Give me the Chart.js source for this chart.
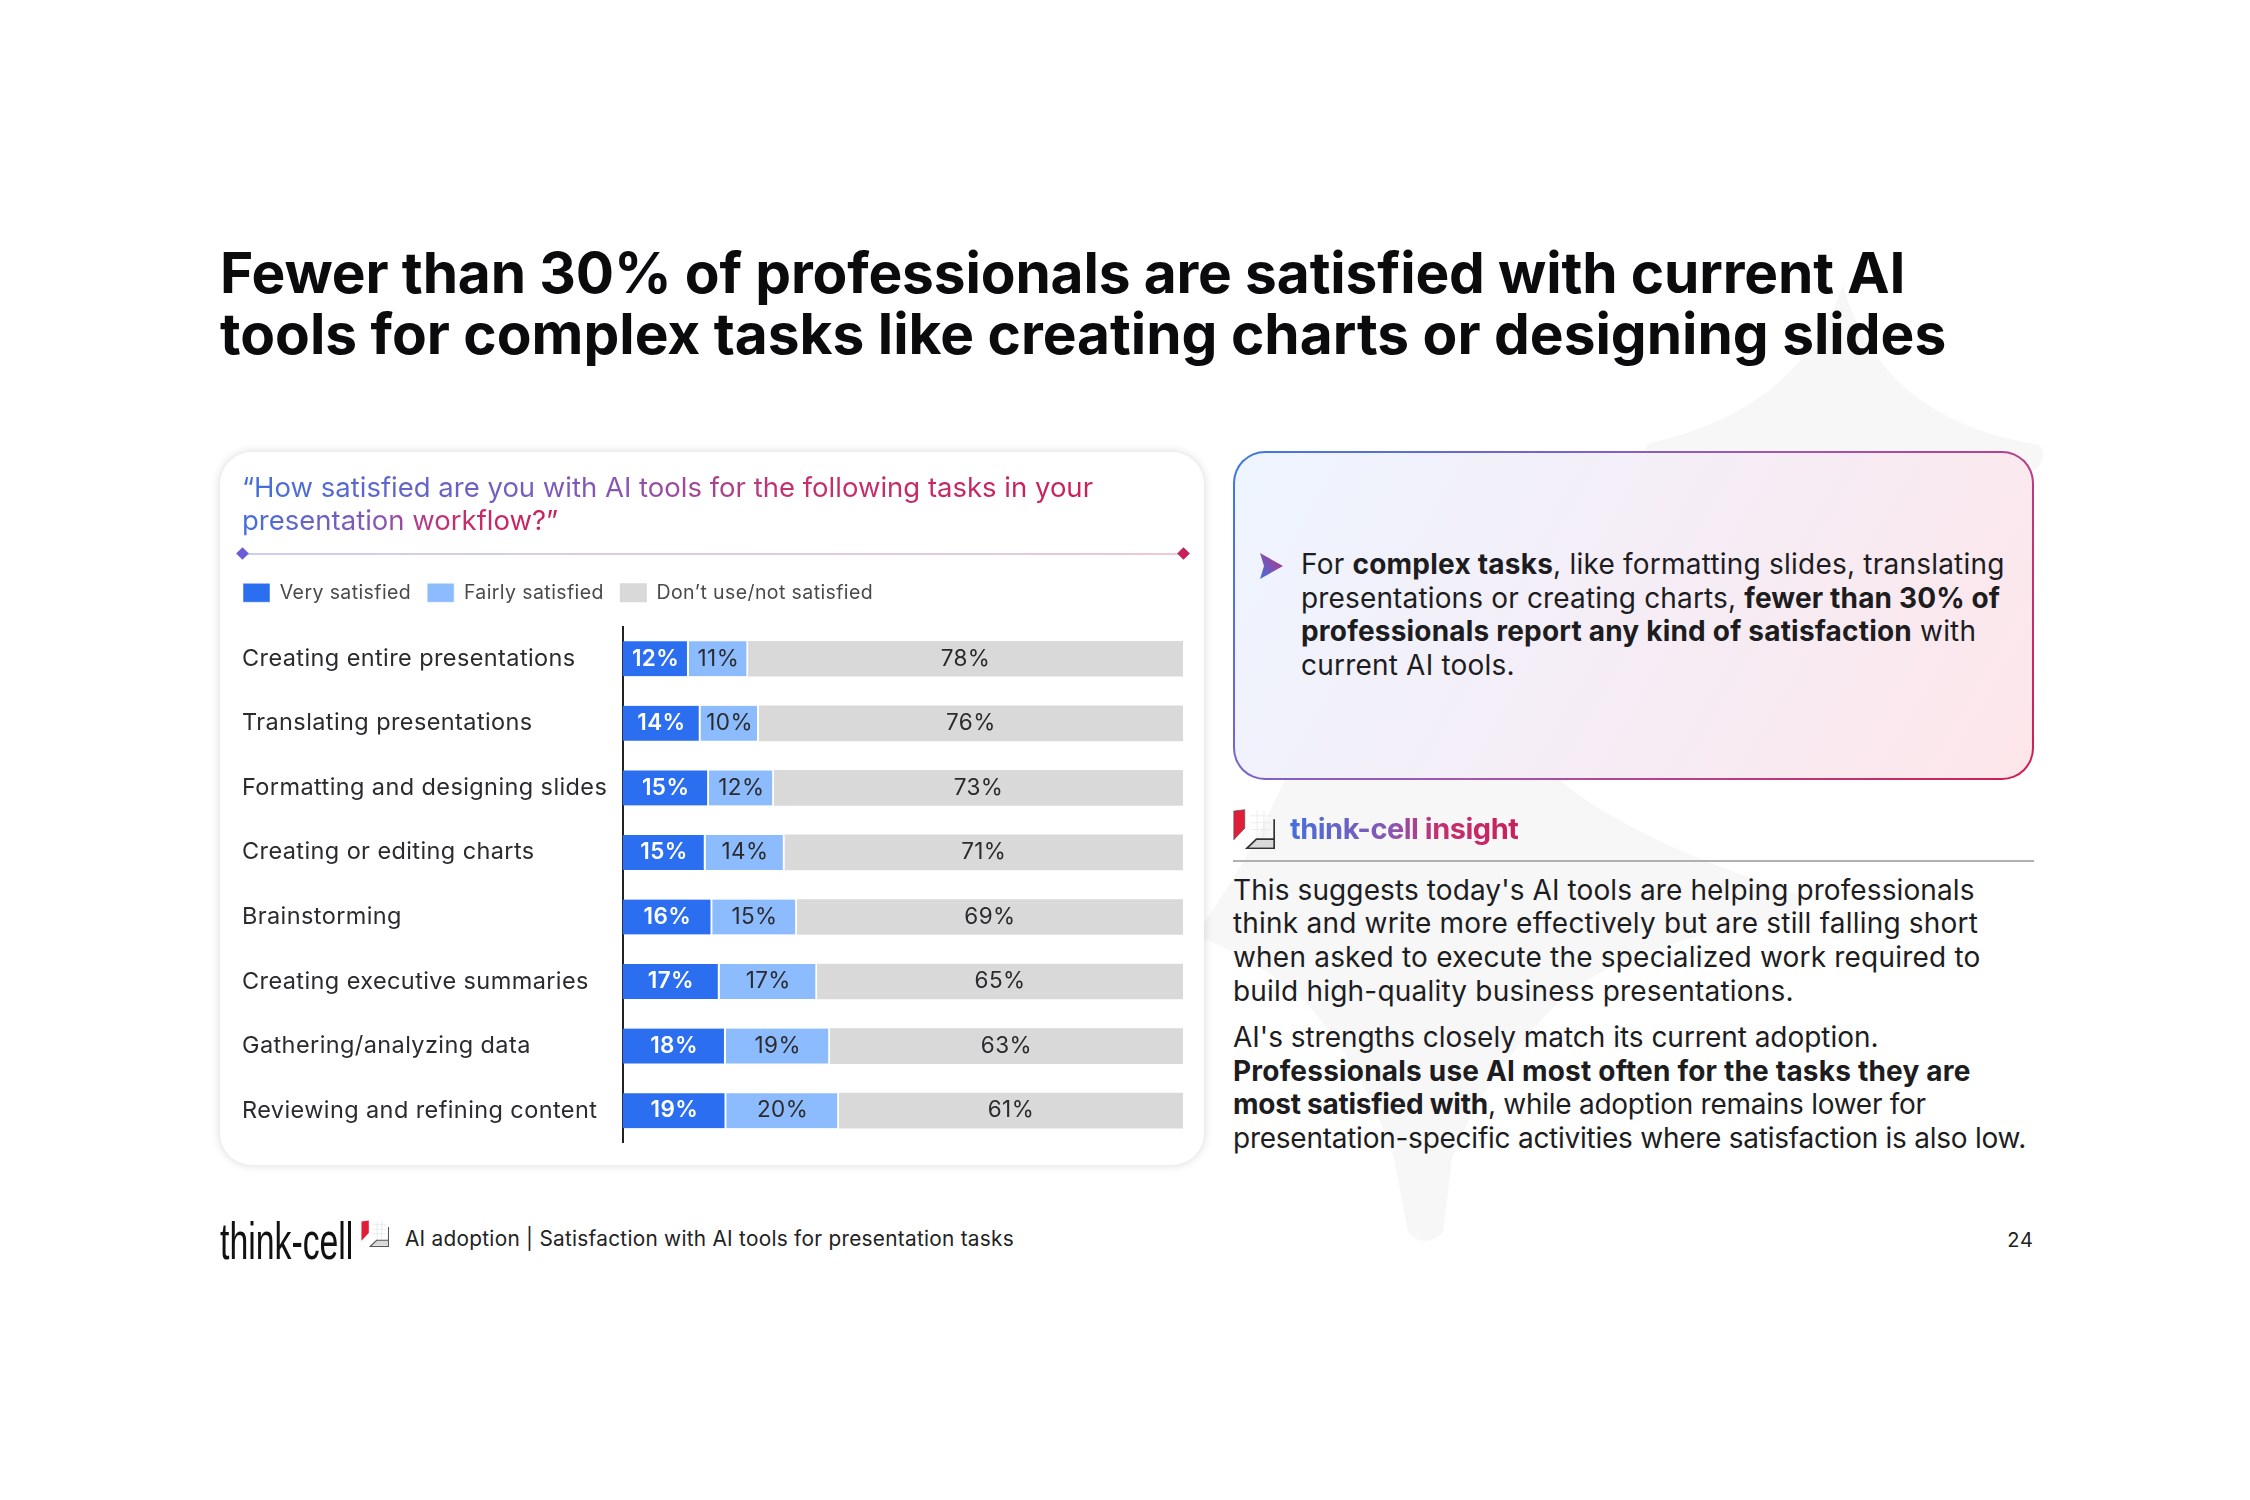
<!DOCTYPE html>
<html>
<head>
<meta charset="utf-8">
<title>Satisfaction with AI tools</title>
<script src="https://cdn.jsdelivr.net/npm/chart.js@4"></script>
<style>
  html, body { margin: 0; padding: 0; background: #fff; }
  body { width: 2250px; height: 1500px; position: relative; overflow: hidden; font-family: Inter, sans-serif; color: #1d1d1f; }
  .abs { position: absolute; white-space: nowrap; }
  b { font-weight: 700; }
  #title { left: 220px; top: 243px; font-size: 56.8px; line-height: 60.5px; font-weight: 700; color: #0b0b0d; }
  #title div { height: 60.5px; }
  #card { left: 220px; top: 452px; width: 984px; height: 713px; background: #fff; border-radius: 32px; box-shadow: 0 0 10px rgba(0,0,0,.16); }
  .grad { -webkit-background-clip: text; background-clip: text; color: transparent; background-image: linear-gradient(90deg, #4470dc, #8a55b0 45%, #c4306f 65%, #c8205c); display: inline-block; }
  #question { left: 242px; top: 471px; font-size: 27.5px; line-height: 33px; }
  #rule { left: 243px; top: 553px; width: 941px; height: 2px; background: linear-gradient(90deg, #cfcdee, #ecc9d6); }
  .diamond { width: 9px; height: 9px; transform: rotate(45deg); top: 549px; }
  #box { left: 1233px; top: 451px; width: 797px; height: 325px; border: 2.5px solid transparent; border-radius: 32px;
    background: linear-gradient(120deg, #eef5ff, #f5edf6 50%, #fde6ea) padding-box, linear-gradient(135deg, #3f78e0, #a455b0 50%, #cf1f50) border-box; }
  .body { font-size: 28px; line-height: 33.7px; letter-spacing: 0.2px; color: #1d1d1f; }
  .body span { display: inline-block; }
  #canvasWrap { position: absolute; left: 242px; top: 567px; }
  canvas { display: block; }
</style>
</head>
<body>

<!-- faint sparkle watermark behind the slide -->
<svg class="abs" style="left:0;top:0" width="2250" height="1500">
  <path fill="#f7f7f8" d="M1843 285 Q1880 420 2040 445 Q2048 460 2035 470 L1645 470 Q1640 450 1650 443 Q1800 410 1843 285 Z"/>
  <path fill="#f7f7f8" d="M1426 620 L1560 780 Q1630 840 1800 895 Q1800 910 1790 915 Q1610 950 1559 1002 Q1480 1080 1452 1158 L1443 1232 Q1425 1250 1408 1232 L1394 1158 Q1360 1060 1305 1002 Q1260 960 1195 935 Q1250 860 1283 783 Z"/>
</svg>

<div class="abs" id="title"><div style="letter-spacing:-.14px">Fewer than 30% of professionals are satisfied with current AI</div><div>tools for complex tasks like creating charts or designing slides</div></div>

<div class="abs" id="card"></div>
<div class="abs" id="question"><span class="grad">“How satisfied are you with AI tools for the following tasks in your</span><br><span class="grad">presentation workflow?”</span></div>
<div class="abs" id="rule"></div>
<div class="abs diamond" style="left:238px;background:#6a5cd8"></div>
<div class="abs diamond" style="left:1179px;background:#c8205c"></div>

<div id="canvasWrap"><canvas id="chart" width="941" height="593" style="width:941px;height:593px"></canvas></div>

<div class="abs" id="box"></div>
<svg class="abs" style="left:1259px;top:553px" width="24" height="26">
  <defs><linearGradient id="arrowGrad" x1="0" y1="1" x2="1" y2="0"><stop offset="0" stop-color="#3f72e0"/><stop offset="1" stop-color="#c0307f"/></linearGradient></defs>
  <path fill="url(#arrowGrad)" d="M1 0 L24 13 L1 26 L5 13 Z"/>
</svg>
<div class="abs body" style="left:1301px;top:548px"><span style="letter-spacing:.22px">For <b>complex tasks</b>, like formatting slides, translating</span><br><span style="letter-spacing:.15px">presentations or creating charts, <b>fewer than 30% of</b></span><br><span><b>professionals report any kind of satisfaction</b> with</span><br>current AI tools.</div>

<svg class="abs" style="left:1233px;top:809px" width="42" height="40" viewBox="0 0 122 117">
  <path fill="none" stroke="#e4e4e4" stroke-width="2" d="M50 20H110M50 40H110M50 60H110M70 5V85M90 5V85"/>
  <path fill="#d9d9d9" d="M42 112 L68 88 H118 V112 Z"/>
  <path fill="none" stroke="#333" stroke-width="5" d="M120 30 V115 H40 L68 88 H120"/>
  <path fill="#e01e37" stroke="#555" stroke-width="2" d="M2 6 L34 2 V56 L2 90 Z"/>
</svg>
<div class="abs" style="left:1290px;top:809px;font-size:29px;line-height:40px;font-weight:700;letter-spacing:-0.5px"><span class="grad">think-cell insight</span></div>
<div class="abs" style="left:1233px;top:860px;width:801px;height:2px;background:#b0b0b0"></div>

<div class="abs body" style="left:1233px;top:873.5px"><span style="letter-spacing:.1px">This suggests today's AI tools are helping professionals</span><br>think and write more effectively but are still falling short<br>when asked to execute the specialized work required to<br>build high-quality business presentations.</div>
<div class="abs body" style="left:1233px;top:1021px"><span style="letter-spacing:-.03px">AI's strengths closely match its current adoption.</span><br><span><b>Professionals use AI most often for the tasks they are</b></span><br><span style="letter-spacing:-.26px"><b>most satisfied with</b>, while adoption remains lower for</span><br><span style="letter-spacing:-.25px">presentation-specific activities where satisfaction is also low.</span></div>

<div class="abs" style="left:220px;top:1216px;font-family:'Liberation Sans Narrow','Liberation Sans',sans-serif;font-size:52px;line-height:50px;color:#111;transform-origin:left center;transform:scaleX(.65)">think-cell</div>
<svg class="abs" style="left:361px;top:1220px" width="28" height="27" viewBox="0 0 122 117">
  <path fill="none" stroke="#e4e4e4" stroke-width="3" d="M50 20H110M50 40H110M50 60H110M70 5V85M90 5V85"/>
  <path fill="#d9d9d9" d="M42 112 L68 88 H118 V112 Z"/>
  <path fill="none" stroke="#555" stroke-width="5" d="M120 30 V115 H40 L68 88 H120"/>
  <path fill="#e01e37" d="M2 6 L34 2 V56 L2 90 Z"/>
</svg>
<div class="abs" style="left:405px;top:1224px;font-size:20.8px;line-height:30px;letter-spacing:0.27px;color:#222">AI adoption | Satisfaction with AI tools for presentation tasks</div>
<div class="abs" style="right:216px;top:1225px;font-size:20px;line-height:30px;letter-spacing:1px;color:#222">24</div>

<script>
const categories = [
  "Creating entire presentations",
  "Translating presentations",
  "Formatting and designing slides",
  "Creating or editing charts",
  "Brainstorming",
  "Creating executive summaries",
  "Gathering/analyzing data",
  "Reviewing and refining content"
];
const verySatisfied = [11.8, 13.9, 15.4, 14.8, 16.0, 17.3, 18.4, 18.5];
const fairlySatisfied = [10.6, 10.4, 11.6, 14.1, 15.1, 17.4, 18.6, 20.1];
const notSatisfied = [77.6, 75.7, 73.0, 71.1, 68.9, 65.3, 63.0, 61.4];
const seriesNames = ["Very satisfied", "Fairly satisfied", "Don’t use/not satisfied"];

const FONT = "Inter";
const TEXT_COLOR = "#2b2b2e";

// prints the rounded share in the middle of each segment
const barLabels = {
  id: "barLabels",
  afterDatasetsDraw(chart) {
    const ctx = chart.ctx;
    ctx.save();
    ctx.textAlign = "center";
    ctx.textBaseline = "middle";
    chart.data.datasets.forEach((ds, i) => {
      ctx.font = (i === 0 ? "600" : "400") + " 22.5px " + FONT;
      ctx.fillStyle = i === 0 ? "#fff" : TEXT_COLOR;
      chart.getDatasetMeta(i).data.forEach((bar, j) => {
        const c = bar.getCenterPoint();
        ctx.fillText(Math.round(ds.data[j]) + "%", c.x, c.y);
      });
    });
    ctx.restore();
  }
};

// legend sits flush with the labels although its padding also spaces the items
const legendShift = {
  id: "legendShift",
  afterLayout(chart) {
    chart.legend.left = 1 - chart.options.plugins.legend.labels.padding;
  },
  beforeDraw(chart) {
    chart.ctx.letterSpacing = "0.4px";
  }
};

new Chart(document.getElementById("chart"), {
  type: "bar",
  data: {
    labels: categories,
    datasets: [
      { label: seriesNames[0], data: verySatisfied, backgroundColor: "#2b6ff0", borderColor: "#fff", borderWidth: { right: 2 }, borderSkipped: false },
      { label: seriesNames[1], data: fairlySatisfied, backgroundColor: "#8cbcfd", borderColor: "#fff", borderWidth: { right: 2 }, borderSkipped: false },
      { label: seriesNames[2], data: notSatisfied, backgroundColor: "#d9d9d9" }
    ]
  },
  options: {
    indexAxis: "y",
    responsive: false,
    animation: false,
    devicePixelRatio: 1,
    datasets: { bar: { barThickness: 35 } },
    layout: { padding: 0 },
    plugins: {
      tooltip: { enabled: false },
      legend: {
        position: "top",
        align: "start",
        labels: {
          boxWidth: 27,
          boxHeight: 19,
          padding: 16,
          color: "#4a4a4d",
          font: { family: FONT, size: 19.5 }
        }
      }
    },
    scales: {
      x: {
        position: "top",
        stacked: true,
        min: 0,
        max: 100,
        grid: { display: false },
        border: { display: false },
        ticks: { display: false },
        afterFit(scale) { scale.height = 14; }
      },
      y: {
        stacked: true,
        grid: { display: false, drawTicks: false },
        border: { display: true, color: "#222", width: 2 },
        ticks: {
          crossAlign: "far",
          color: TEXT_COLOR,
          font: { family: FONT, size: 23.5 }
        },
        afterFit(scale) { scale.width = 380.5; }
      }
    }
  },
  plugins: [barLabels, legendShift]
});
</script>
</body>
</html>
